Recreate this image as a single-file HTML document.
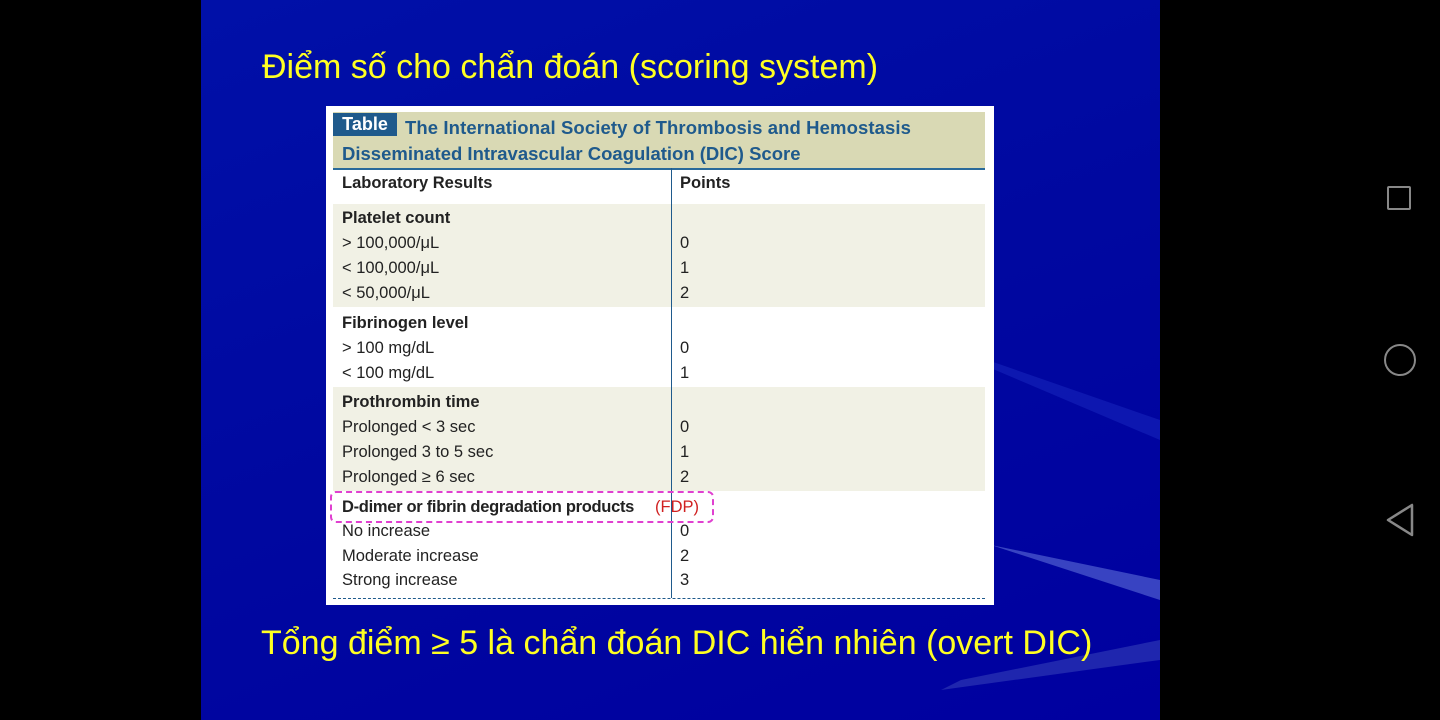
<!DOCTYPE html>
<html><head><meta charset="utf-8"><style>
body{margin:0;width:1440px;height:720px;background:#000;overflow:hidden;position:relative;font-family:"Liberation Sans",sans-serif}
#slide{position:absolute;left:201px;top:0;width:959px;height:720px;background:linear-gradient(160deg,#0010a8 0%,#0008a0 50%,#0000a0 100%);overflow:hidden}
.t{position:absolute;color:#ffff22;font-size:34px;white-space:nowrap}
#tbl{position:absolute;left:326px;top:106px;width:668px;height:499px;background:#fff}
.r{position:absolute;font-size:16.5px;color:#222;white-space:nowrap}
.b{font-weight:bold}
.band{position:absolute;left:7px;width:652px;background:#f1f1e5}
</style></head><body>
<div id="slide">
<svg width="959" height="720" style="position:absolute;left:0;top:0">
<polygon points="959,420 959,440 700,330" fill="#1a2ac0" opacity="0.5"/>
<polygon points="959,580 959,600 790,545" fill="#5060d0" opacity="0.7"/>
<polygon points="959,640 959,660 900,668 740,690 760,680" fill="#3340b8" opacity="0.6"/>
</svg>
<div class="t" style="left:61px;top:48px">Điểm số cho chẩn đoán (scoring system)</div>
<div class="t" style="left:60px;top:624px">Tổng điểm ≥ 5 là chẩn đoán DIC hiển nhiên (overt DIC)</div>
</div>
<div id="tbl">
<div style="position:absolute;left:7px;top:6px;width:652px;height:56px;background:#d9d9b4;border-bottom:2px solid #2a6a9a"></div>
<div style="position:absolute;left:7px;top:7px;width:64px;height:23px;background:#1f5a8c;color:#fff;font-weight:bold;font-size:18px;line-height:23px;text-align:center">Table</div>
<div style="position:absolute;left:79px;top:11px;color:#1f5a8c;font-weight:bold;font-size:18.5px;white-space:nowrap;letter-spacing:0.1px">The International Society of Thrombosis and Hemostasis</div>
<div style="position:absolute;left:16px;top:37px;color:#1f5a8c;font-weight:bold;font-size:18.5px;white-space:nowrap">Disseminated Intravascular Coagulation (DIC) Score</div>
<div class="band" style="top:98px;height:103px"></div>
<div class="band" style="top:281px;height:104px"></div>
<div style="position:absolute;left:345px;top:62px;width:1px;height:430px;background:#1f5a8c"></div>
<div style="position:absolute;left:7px;top:492px;width:652px;border-top:1.5px dashed #1f5a8c"></div>
<div id="rows"></div>
<div style="position:absolute;left:4px;top:385px;width:380px;height:28px;border:2px dashed #e040d0;border-radius:6px"></div>
<div class="r" style="left:329px;top:392px;color:#d02020">(FDP)</div>
</div>
<div style="position:absolute;left:1387px;top:186px;width:24px;height:24px;border:2.5px solid #888;border-radius:2px;box-sizing:border-box"></div>
<div style="position:absolute;left:1384px;top:344px;width:32px;height:32px;border:2.5px solid #888;border-radius:50%;box-sizing:border-box"></div>
<svg style="position:absolute;left:1384px;top:502px" width="32" height="36"><polygon points="28,3 28,33 4,18" fill="none" stroke="#888" stroke-width="2.5" stroke-linejoin="round"/></svg>
<script>
const labels=["Laboratory Results","Platelet count","> 100,000/μL","< 100,000/μL","< 50,000/μL","Fibrinogen level","> 100 mg/dL","< 100 mg/dL","Prothrombin time","Prolonged < 3 sec","Prolonged 3 to 5 sec","Prolonged ≥ 6 sec","D-dimer or fibrin degradation products","No increase","Moderate increase","Strong increase"];
const points=["Points","","0","1","2","","0","1","","0","1","2","","0","2","3"];
const bold=[1,1,0,0,0,1,0,0,1,0,0,0,1,0,0,0];
const tops=[68,103,128,153,178,208,233,258,287,312,337,362,392,416,441,465];
const rows=document.getElementById('rows');
labels.forEach((l,i)=>{
 const a=document.createElement('div');a.className='r'+(bold[i]?' b':'');a.style.left='16px';a.style.top=tops[i]+'px';a.textContent=l;
 if(i==12){a.style.letterSpacing='-0.3px';}
 
 
 rows.appendChild(a);
 const p=document.createElement('div');p.className='r'+(i==0?' b':'');p.style.left='354px';p.style.top=tops[i]+'px';p.textContent=points[i];
 
 
 rows.appendChild(p);
});
</script>
</body></html>
